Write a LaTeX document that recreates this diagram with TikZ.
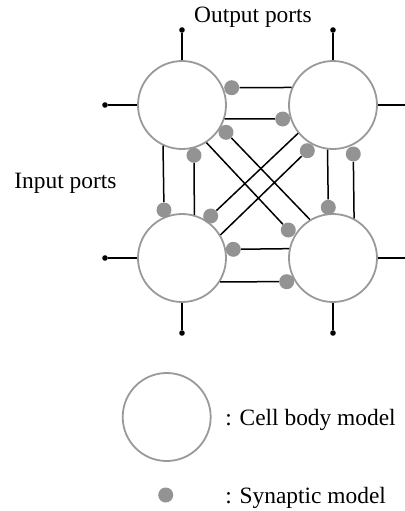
\documentclass[tikz,border=0pt]{standalone}
\usepackage{fontspec}
\setmainfont{Liberation Serif}

\begin{document}
\begin{tikzpicture}[
        x=0.5pt, y=0.5pt,
        font=\fontsize{11.7}{14}\selectfont,
        cell/.style={
            circle,
            draw=gray!80,
            line width=0.9pt,
            fill=white,
            inner sep=0pt,
            minimum size=44pt
        },
        synapse/.style={
            circle,
            fill=gray!85,
            inner sep=0pt,
            minimum size=7.5pt
        },
        port/.style={
            circle,
            fill=black,
            inner sep=0pt,
            minimum size=2.8pt
        },
        wire/.style={draw, line width=0.75pt}
    ]
        \useasboundingbox (0,0) rectangle (405,-511);

        % Cell nodes
        \node[cell] (tl) at (182,-105) {};
        \node[cell] (tr) at (333,-105) {};
        \node[cell] (bl) at (182,-258) {};
        \node[cell] (br) at (333,-258) {};

        % Port ends
        \node[port] (outl) at (182,-30) {};
        \node[port] (outr) at (333,-30) {};
        \node[port] (intl) at (105,-105) {};
        \node[port] (inbl) at (105,-258) {};
        \node[port] (downl) at (182,-333) {};
        \node[port] (downr) at (333,-333) {};
        \coordinate (righttr) at (405,-105);
        \coordinate (rightbr) at (405,-258);

        % Port lines
        \draw[wire] (tl.north) -- (outl);
        \draw[wire] (tr.north) -- (outr);
        \draw[wire] (tl.west) -- (intl);
        \draw[wire] (bl.west) -- (inbl);
        \draw[wire] (bl.south) -- (downl);
        \draw[wire] (br.south) -- (downr);
        \draw[wire] (tr.east) -- (righttr);
        \draw[wire] (br.east) -- (rightbr);

        % Synapse nodes (at the receiving cell)
        \node[synapse] (tltr) at (231.7,-87.7) {};
        \node[synapse] (trtl) at (282.7,-119) {};
        \node[synapse] (tlbl) at (194,-155.3) {};
        \node[synapse] (bltl) at (164,-210) {};
        \node[synapse] (brtr) at (328.3,-207.3) {};
        \node[synapse] (trbr) at (353.3,-154) {};
        \node[synapse] (blbr) at (233.3,-249.3) {};
        \node[synapse] (brbl) at (286.7,-281.7) {};
        \node[synapse] (tlbr) at (226,-132.3) {};
        \node[synapse] (brtl) at (288.3,-230) {};
        \node[synapse] (trbl) at (307.3,-150.7) {};
        \node[synapse] (bltr) at (210.7,-216) {};

        % Synaptic connections
        \draw[wire] (tr.157.3) -- (tltr);
        \draw[wire] (tl.-18.6) -- (trtl);
        \draw[wire] (bl.74.8) -- (tlbl);
        \draw[wire] (tl.245.1) -- (bltl);
        \draw[wire] (tr.263.9) -- (brtr);
        \draw[wire] (br.62.5) -- (trbr);
        \draw[wire] (br.168.6) -- (blbr);
        \draw[wire] (bl.-32.6) -- (brbl);
        \draw[wire] (br.121.9) -- (tlbr);
        \draw[wire] (tl.-57.7) -- (brtl);
        \draw[wire] (bl.31.5) -- (trbl);
        \draw[wire] (tr.219.9) -- (bltr);

        % Labels
        \node[anchor=base] (outlabel) at (253,-22.5) {Output ports};
        \node[anchor=base west, inner sep=0pt] (inlabel) at (14,-188) {Input ports};

        % Legend
        \node[cell] (legcell) at (166.7,-417) {};
        \node[anchor=base west, inner sep=0pt] (legcelltext) at (225,-425) {: Cell body model};
        \node[synapse] (legsyn) at (165.7,-495) {};
        \node[anchor=base west, inner sep=0pt] (legsyntext) at (225,-503) {: Synaptic model};
    \end{tikzpicture}
\end{document}
